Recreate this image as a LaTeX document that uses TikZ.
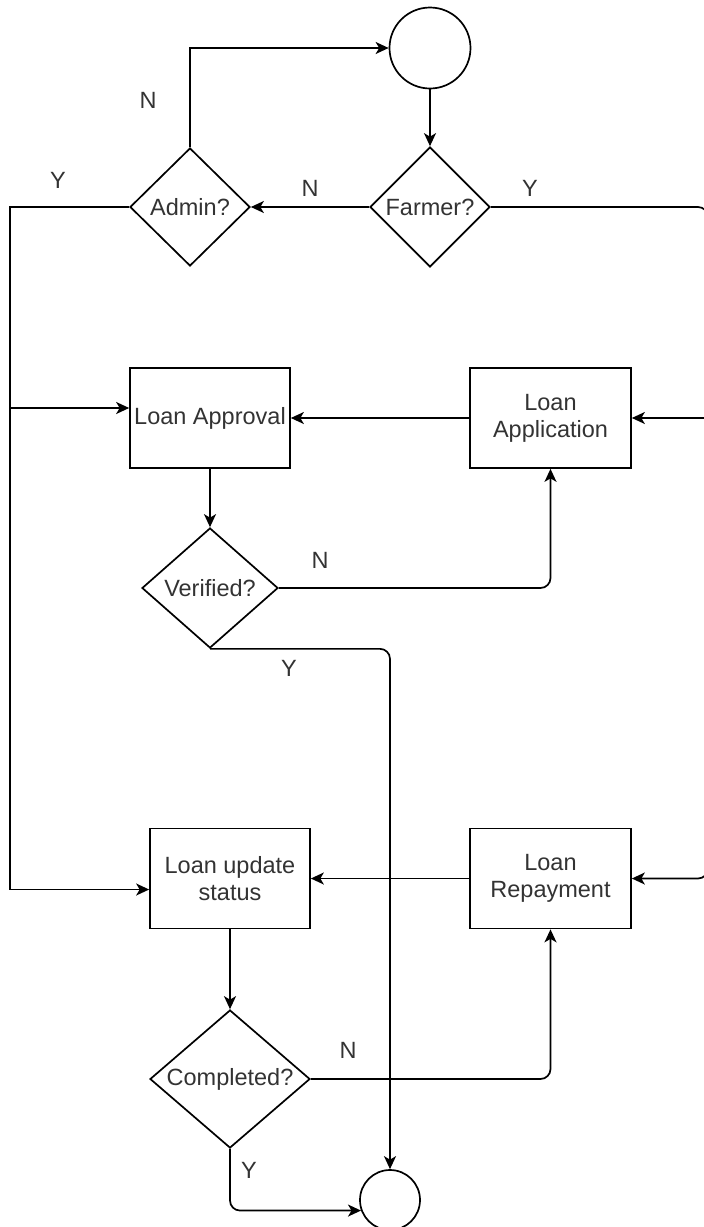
\documentclass[tikz,border=0pt]{standalone}
\usepackage{fontspec}
\setmainfont{Liberation Sans}
\usetikzlibrary{shapes.geometric,arrows.meta,calc}
\definecolor{txt}{HTML}{333333}
\begin{document}
\begin{tikzpicture}[x=1pt,y=-1pt,
  every node/.style={font=\fontsize{23.5}{27}\selectfont, text=txt},
  line/.style={draw=black, line width=1.7pt},
  arr/.style={line, -{Stealth[length=13pt,width=12pt,inset=3.5pt]}},
  proc/.style={rectangle, draw, line width=1.7pt, minimum width=161pt,
               minimum height=100pt, inner sep=0pt, align=center},
  dec/.style={diamond, draw, line width=1.7pt, inner sep=0pt},
  term/.style={circle, draw, line width=1.7pt, inner sep=0pt},
  lbl/.style={inner sep=0pt}
]
\fill[white] (0,0) rectangle (704,1227);
\useasboundingbox (0,0) rectangle (704,1227);

% terminals
\node[term, minimum size=81pt] (start) at (430,48) {};
\node[term, minimum size=60pt] (stop) at (390,1200) {};

% decisions
\node[dec, minimum width=120pt, minimum height=118pt, label=center:Admin?] (admin) at (190,207) {};
\node[dec, minimum width=120pt, minimum height=120pt, label=center:Farmer?] (farmer) at (430,207) {};
\node[dec, minimum width=136pt, minimum height=120pt, label=center:Verified?] (ver) at (210,588) {};
\node[dec, minimum width=160pt, minimum height=138pt, label=center:Completed?] (comp) at (230,1079) {};

% processes
\node[proc, minimum width=160pt] (appr) at (210,418) {Loan Approval};
\node[proc] (app) at (550.5,418) {Loan\\Application};
\node[proc, minimum width=160pt] (upd) at (230,878.5) {Loan update\\status};
\node[proc] (repay) at (550.5,878.5) {Loan\\Repayment};

% rails along the left and right edges
\coordinate (lrail) at (10,207);
\coordinate (rrail) at (708,207);
\coordinate (apin) at ($(appr.west)+(0,-10)$);
\coordinate (upin) at ($(upd.west)+(0,11)$);

% connectors
\draw[arr] (admin.north) |- (start.west);
\draw[arr] (start.south) -- (farmer.north);
\draw[arr] (farmer.west) -- (admin.east);
\draw[arr, rounded corners=10pt] (farmer.east) -- (rrail) |- (repay.east);
\draw[arr] (rrail |- app.east) -- (app.east);
\draw[arr] (admin.west) -- (lrail) |- (upin);
\draw[arr] (lrail |- apin) -- (apin);
\draw[arr] (app.west) -- (appr.east);
\draw[arr] (appr.south) -- (ver.north);
\draw[arr, rounded corners=10pt] (ver.east) -| (app.south);
\draw[arr, rounded corners=10pt] (ver.south) -| (stop.north);
\draw[arr] (repay.west) -- (upd.east);
\draw[arr] (upd.south) -- (comp.north);
\draw[arr, rounded corners=10pt] (comp.east) -| (repay.south);
\draw[arr, rounded corners=10pt] (comp.south) |- (stop.200);

% branch labels
\node[lbl] (nAdmin) at (148,100) {N};
\node[lbl] (yAdmin) at (58,180) {Y};
\node[lbl] (nFarmer) at (310,188) {N};
\node[lbl] (yFarmer) at (530,188) {Y};
\node[lbl] (nVer) at (320,560) {N};
\node[lbl] (yVer) at (289,668) {Y};
\node[lbl] (nComp) at (348,1050) {N};
\node[lbl] (yComp) at (249,1170) {Y};
\end{tikzpicture}
\end{document}
